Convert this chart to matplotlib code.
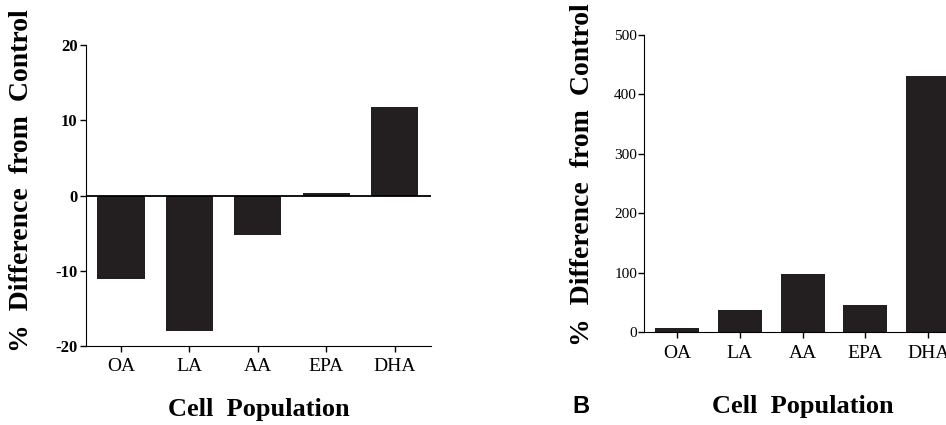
import numpy as np
import matplotlib.pyplot as plt

plt.rcParams['axes.unicode_minus'] = False

# fatty acid groups and % difference from control
cells = ['OA', 'LA', 'AA', 'EPA', 'DHA']
diff_a = [-11.1, -18.0, -5.3, 0.3, 11.7]
diff_b = [6, 37, 98, 45, 431]
ticks_a = [-20, -10, 0, 10, 20]
ticks_b = [0, 100, 200, 300, 400, 500]

bar_col = '#231f20'
serif = 'Liberation Serif'

fig = plt.figure(figsize=(9.46, 4.25), dpi=100)

# ---- left panel
ax1 = fig.add_axes([0.0909, 0.1859, 0.3647, 0.7081])
x = np.arange(len(cells))
ax1.bar(x, diff_a, width=0.69, color=bar_col)
ax1.axhline(0, color='k', lw=1.3)
ax1.set_ylim(-20, 20)
ax1.set_xlim(-0.51, 4.53)
ax1.set_yticks(ticks_a)
ax1.set_xticks(x)
ax1.set_xticklabels(cells, family=serif, fontsize=14)
for t in ax1.get_yticklabels():
    t.set_family(serif)
    t.set_fontsize(12)
    t.set_fontweight('bold')
ax1.spines['top'].set_visible(False)
ax1.spines['right'].set_visible(False)
ax1.tick_params(direction='out', length=4, width=1, pad=2)
ax1.tick_params(axis='x', pad=5)
ax1.set_xlabel('Cell  Population', family=serif, fontsize=19, fontweight='bold', labelpad=16)
ax1.set_ylabel('%  Difference  from  Control', family=serif, fontsize=20, fontweight='bold')
ax1.yaxis.set_label_coords(-0.15, 0.55)

# ---- right panel (runs off the right edge like the source scan)
ax2 = fig.add_axes([0.6808, 0.2188, 0.335, 0.6988])
ax2.bar(x, diff_b, width=0.70, color=bar_col)
ax2.set_ylim(0, 500)
ax2.set_xlim(-0.524, 4.52)
ax2.set_yticks(ticks_b)
ax2.set_xticks(x)
ax2.set_xticklabels(cells, family=serif, fontsize=14)
for t in ax2.get_yticklabels():
    t.set_family(serif)
    t.set_fontsize(11)
ax2.spines['top'].set_visible(False)
ax2.spines['right'].set_visible(False)
ax2.tick_params(direction='out', length=4, width=1, pad=1)
ax2.tick_params(axis='x', pad=5)
ax2.set_xlabel('Cell  Population', family=serif, fontsize=19, fontweight='bold', labelpad=24)
ax2.set_ylabel('%  Difference  from  Control', family=serif, fontsize=20, fontweight='bold')
ax2.yaxis.set_label_coords(-0.155, 0.53)

fig.text(0.614, 0.016, 'B', family='Liberation Sans', fontsize=17, fontweight='bold', ha='center', va='bottom')

fig.savefig('out.png', dpi=100)
